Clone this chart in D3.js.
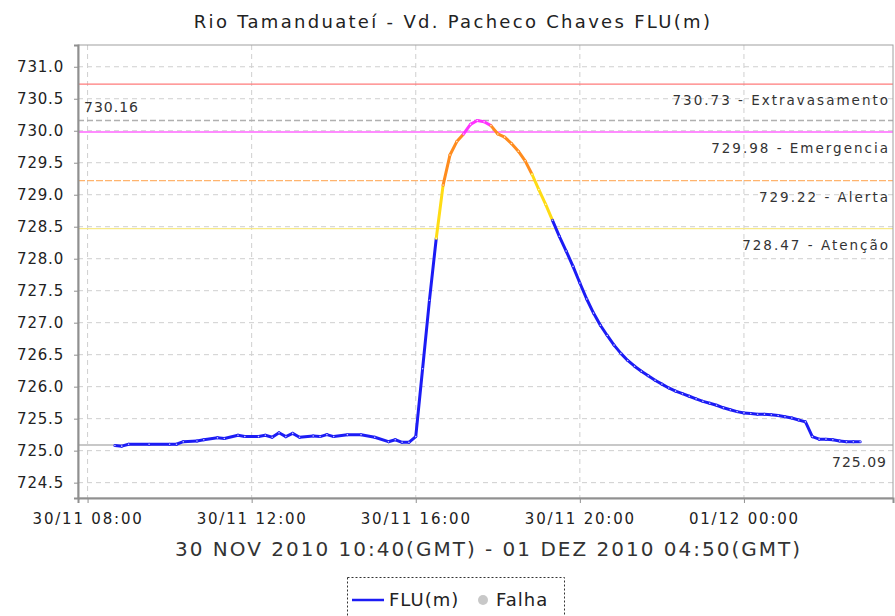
<!DOCTYPE html>
<html>
<head>
<meta charset="utf-8">
<script src="https://cdn.jsdelivr.net/npm/d3@7"></script>
<style>
  html, body { margin: 0; padding: 0; background: #ffffff; }
  svg { display: block; }
  text { font-family: "DejaVu Sans", sans-serif; fill: #222; }
</style>
</head>
<body>
<svg id="chart" width="895" height="616"></svg>
<script>
// ---------- data ----------
const chartTitle = "Rio Tamanduateí - Vd. Pacheco Chaves FLU(m)";
const xAxisTitle = "30 NOV 2010 10:40(GMT) - 01 DEZ 2010 04:50(GMT)";

const times = [
  "2010-11-30 08:40","2010-11-30 08:50","2010-11-30 09:00","2010-11-30 09:30","2010-11-30 10:00",
  "2010-11-30 10:10","2010-11-30 10:20","2010-11-30 10:40","2010-11-30 10:50","2010-11-30 11:10",
  "2010-11-30 11:20","2010-11-30 11:40","2010-11-30 11:50","2010-11-30 12:10","2010-11-30 12:20",
  "2010-11-30 12:30","2010-11-30 12:40","2010-11-30 12:50","2010-11-30 13:00","2010-11-30 13:10",
  "2010-11-30 13:30","2010-11-30 13:40","2010-11-30 13:50","2010-11-30 14:00","2010-11-30 14:20",
  "2010-11-30 14:40","2010-11-30 15:00","2010-11-30 15:20","2010-11-30 15:30","2010-11-30 15:40",
  "2010-11-30 15:50","2010-11-30 16:00","2010-11-30 16:10","2010-11-30 16:20","2010-11-30 16:30",
  "2010-11-30 16:40","2010-11-30 16:50","2010-11-30 17:00","2010-11-30 17:10","2010-11-30 17:20",
  "2010-11-30 17:30","2010-11-30 17:40","2010-11-30 17:50","2010-11-30 18:00","2010-11-30 18:10",
  "2010-11-30 18:20","2010-11-30 18:30","2010-11-30 18:40","2010-11-30 18:50","2010-11-30 19:00",
  "2010-11-30 19:10","2010-11-30 19:20","2010-11-30 19:30","2010-11-30 19:40","2010-11-30 19:50",
  "2010-11-30 20:00","2010-11-30 20:10","2010-11-30 20:20","2010-11-30 20:30","2010-11-30 20:40",
  "2010-11-30 20:50","2010-11-30 21:00","2010-11-30 21:10","2010-11-30 21:20","2010-11-30 21:30",
  "2010-11-30 21:40","2010-11-30 21:50","2010-11-30 22:00","2010-11-30 22:10","2010-11-30 22:20",
  "2010-11-30 22:30","2010-11-30 22:40","2010-11-30 22:50","2010-11-30 23:00","2010-11-30 23:10",
  "2010-11-30 23:20","2010-11-30 23:30","2010-11-30 23:40","2010-11-30 23:50","2010-12-01 00:00",
  "2010-12-01 00:10","2010-12-01 00:20","2010-12-01 00:30","2010-12-01 00:40","2010-12-01 00:50",
  "2010-12-01 01:00","2010-12-01 01:10","2010-12-01 01:20","2010-12-01 01:30","2010-12-01 01:40",
  "2010-12-01 01:50","2010-12-01 02:00","2010-12-01 02:10","2010-12-01 02:20","2010-12-01 02:30",
  "2010-12-01 02:40","2010-12-01 02:50"
];
const levels = [
  725.08,725.07,725.10,725.10,725.10,
  725.10,725.14,725.15,725.17,725.20,
  725.19,725.24,725.22,725.22,725.24,
  725.21,725.28,725.22,725.27,725.21,
  725.23,725.22,725.25,725.22,725.25,
  725.25,725.21,725.14,725.17,725.13,
  725.13,725.22,726.28,727.35,728.32,
  729.15,729.62,729.83,729.95,730.10,
  730.16,730.14,730.08,729.95,729.90,
  729.80,729.68,729.53,729.32,729.08,
  728.85,728.60,728.35,728.12,727.88,
  727.62,727.37,727.15,726.96,726.80,
  726.65,726.52,726.41,726.32,726.24,
  726.17,726.10,726.04,725.98,725.93,
  725.89,725.85,725.81,725.77,725.74,
  725.71,725.67,725.64,725.61,725.59,
  725.58,725.57,725.57,725.56,725.55,
  725.53,725.51,725.48,725.45,725.22,
  725.18,725.18,725.17,725.15,725.14,
  725.14,725.14
];

const thresholdValues = [730.73, 729.98, 729.22, 728.47];
const thresholdNames  = ["Extravasamento", "Emergencia", "Alerta", "Atenção"];
const thresholdColors = ["#ff7b7b", "#ff66ff", "#ffb46e", "#f7ea8a"];
const levelColors     = ["#ff33ff", "#ff8c1e", "#ffdc14", "#1c1cf5"];
const maxValue = 730.16;
const minValue = 725.09;

const yTicks = [724.5, 725.0, 725.5, 726.0, 726.5, 727.0, 727.5, 728.0, 728.5, 729.0, 729.5, 730.0, 730.5, 731.0];
const xTickLabels = ["2010-11-30 08:00","2010-11-30 12:00","2010-11-30 16:00","2010-11-30 20:00","2010-12-01 00:00"];
const xDomain = ["2010-11-30 07:46","2010-12-01 03:38"];
const yDomain = [724.26, 731.34];

const legendSeries = "FLU(m)";
const legendFail = "Falha";

// ---------- drawing ----------
const parse = d3.timeParse("%Y-%m-%d %H:%M");
const data = times.map((t, i) => ({ t: parse(t), v: levels[i] }));

const plot = { left: 78, top: 45, right: 893, bottom: 498 };
const svg = d3.select("#chart");

const x = d3.scaleTime().domain(xDomain.map(parse)).range([plot.left, plot.right]);
const y = d3.scaleLinear().domain(yDomain).range([plot.bottom, plot.top]);

// title
svg.append("text")
  .attr("x", 453).attr("y", 28)
  .attr("text-anchor", "middle")
  .style("font-size", "18px").style("letter-spacing", "2.3px")
  .text(chartTitle);

// grid
const grid = svg.append("g");
grid.selectAll("line.gy").data(yTicks).join("line")
  .attr("x1", plot.left).attr("x2", plot.right)
  .attr("y1", d => y(d)).attr("y2", d => y(d))
  .attr("stroke", "#cfcfcf").attr("stroke-width", 1).attr("stroke-dasharray", "5,4");
grid.selectAll("line.gx").data(xTickLabels.map(parse)).join("line")
  .attr("x1", d => x(d)).attr("x2", d => x(d))
  .attr("y1", plot.top).attr("y2", plot.bottom)
  .attr("stroke", "#cfcfcf").attr("stroke-width", 1).attr("stroke-dasharray", "5,4");

// min / max markers
svg.append("line")
  .attr("x1", plot.left).attr("x2", plot.right)
  .attr("y1", y(maxValue)).attr("y2", y(maxValue))
  .attr("stroke", "#b0b0b0").attr("stroke-width", 1.5).attr("stroke-dasharray", "6,3");
svg.append("line")
  .attr("x1", plot.left).attr("x2", plot.right)
  .attr("y1", y(minValue)).attr("y2", y(minValue))
  .attr("stroke", "#c8c8c8").attr("stroke-width", 2);
svg.append("text")
  .attr("x", 84).attr("y", y(maxValue) - 9)
  .style("font-size", "14px").style("letter-spacing", "1px").style("fill", "#333")
  .text(maxValue.toFixed(2));
svg.append("text")
  .attr("x", 887).attr("y", y(minValue) + 22)
  .attr("text-anchor", "end")
  .style("font-size", "14px").style("letter-spacing", "1px").style("fill", "#333")
  .text(minValue.toFixed(2));

// thresholds
thresholdValues.forEach((v, i) => {
  svg.append("line")
    .attr("x1", plot.left).attr("x2", plot.right)
    .attr("y1", y(v)).attr("y2", y(v))
    .attr("stroke", thresholdColors[i]).attr("stroke-width", 1.3)
    .attr("stroke-dasharray", i === 2 ? "7,2" : null);
  svg.append("text")
    .attr("x", 890).attr("y", y(v) + 21)
    .attr("text-anchor", "end")
    .style("font-size", "13.5px").style("letter-spacing", "2px").style("fill", "#333")
    .text(v.toFixed(2) + " - " + thresholdNames[i]);
});

// colored series: each segment coloured by its later point's level
function colorFor(v) {
  if (v >= thresholdValues[1]) return levelColors[0];
  if (v >= thresholdValues[2]) return levelColors[1];
  if (v >= thresholdValues[3]) return levelColors[2];
  return levelColors[3];
}
const line = d3.line().x(d => x(d.t)).y(d => y(d.v));
const segs = svg.append("g");
for (let i = 1; i < data.length; i++) {
  segs.append("path")
    .attr("d", line([data[i - 1], data[i]]))
    .attr("fill", "none")
    .attr("stroke", colorFor(data[i].v))
    .attr("stroke-width", 3)
    .attr("stroke-linecap", "round");
}
segs.selectAll("circle").data(data).join("circle")
  .attr("cx", d => x(d.t)).attr("cy", d => y(d.v))
  .attr("r", 0.8).attr("fill", "#ffffff").attr("opacity", 0.75);

// axes frame
svg.append("rect")
  .attr("x", plot.left).attr("y", plot.top)
  .attr("width", plot.right - plot.left).attr("height", plot.bottom - plot.top)
  .attr("fill", "none").attr("stroke", "#a0a0a0").attr("stroke-width", 1);

// y axis
const yAxis = d3.axisLeft(y).tickValues(yTicks).tickFormat(d3.format(".1f")).tickSize(4).tickPadding(10);
const gy = svg.append("g").attr("transform", `translate(${plot.left},0)`).call(yAxis);
gy.select(".domain").attr("stroke", "#909090").attr("stroke-width", 2);
gy.selectAll(".tick line").attr("stroke", "#909090");
gy.selectAll(".tick text")
  .style("font-family", "DejaVu Sans, sans-serif").style("font-size", "15px")
  .style("letter-spacing", "0.8px").attr("fill", "#333");

// x axis
const xAxis = d3.axisBottom(x).tickValues(xTickLabels.map(parse))
  .tickFormat(d3.timeFormat("%d/%m %H:%M")).tickSize(5).tickPadding(10);
const gx = svg.append("g").attr("transform", `translate(0,${plot.bottom})`).call(xAxis);
gx.select(".domain").attr("stroke", "#909090").attr("stroke-width", 2);
gx.selectAll(".tick line").attr("stroke", "#909090");
gx.selectAll(".tick text")
  .style("font-family", "DejaVu Sans, sans-serif").style("font-size", "15px")
  .style("letter-spacing", "1.8px").attr("fill", "#333");

svg.append("text")
  .attr("x", (plot.left + plot.right) / 2 + 3).attr("y", 556)
  .attr("text-anchor", "middle")
  .style("font-size", "20px").style("letter-spacing", "2px").style("fill", "#333")
  .text(xAxisTitle);

// legend
const lg = svg.append("g");
lg.append("rect")
  .attr("x", 347.5).attr("y", 577.5).attr("width", 217).attr("height", 50)
  .attr("fill", "#fff").attr("stroke", "#333").attr("stroke-dasharray", "2,2");
lg.append("line")
  .attr("x1", 352).attr("x2", 384).attr("y1", 600).attr("y2", 600)
  .attr("stroke", levelColors[3]).attr("stroke-width", 2.5);
lg.append("text").attr("x", 389).attr("y", 606)
  .style("font-size", "18px").style("letter-spacing", "1px").style("fill", "#222").text(legendSeries);
lg.append("circle").attr("cx", 483).attr("cy", 600).attr("r", 5).attr("fill", "#c8c8c8");
lg.append("text").attr("x", 496).attr("y", 606)
  .style("font-size", "18px").style("letter-spacing", "1px").style("fill", "#222").text(legendFail);
</script>
</body>
</html>
